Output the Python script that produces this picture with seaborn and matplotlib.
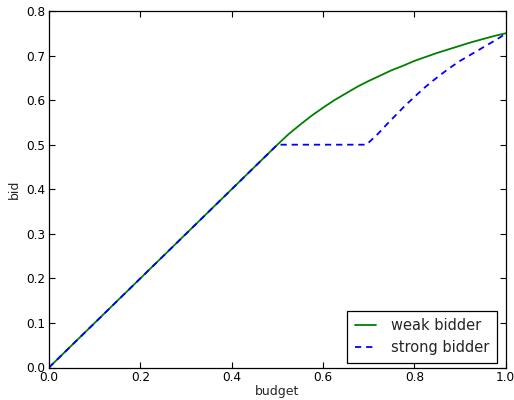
import matplotlib
matplotlib.use("Agg")
import matplotlib.pyplot as plt
import seaborn as sns
import pandas as pd

# valores
budgetWeak = [0.0, 0.5, 0.525, 0.55, 0.575, 0.6, 0.625, 0.65, 0.675, 0.7, 0.725, 0.75,
              0.775, 0.8, 0.825, 0.85, 0.875, 0.9, 0.925, 0.95, 0.975, 1.0]
bidWeak = [0.0, 0.5, 0.524, 0.545, 0.565, 0.583, 0.6, 0.615, 0.63, 0.643, 0.655, 0.667,
           0.677, 0.688, 0.697, 0.706, 0.714, 0.722, 0.73, 0.737, 0.744, 0.75]

budgetStrong = [0.0, 0.5, 0.695, 0.72, 0.74, 0.76, 0.78, 0.8, 0.82, 0.84, 0.86, 0.88,
                0.9, 0.92, 0.94, 0.96, 0.98, 1.0]
bidStrong = [0.0, 0.5, 0.5, 0.524, 0.546, 0.567, 0.588, 0.607, 0.626, 0.643, 0.659, 0.674,
             0.688, 0.70, 0.712, 0.724, 0.736, 0.749]

sns.set_style("ticks")
plt.rcParams['font.family'] = ['DejaVu Sans']
plt.rcParams['lines.scale_dashes'] = False

dadosFracos = pd.DataFrame({'budget': budgetWeak, 'bid': bidWeak})
dadosFortes = pd.DataFrame({'budget': budgetStrong, 'bid': bidStrong})

fig = plt.figure(figsize=(5.14, 4.0), dpi=100)
ax = fig.add_axes([49 / 514, 32.5 / 400, 456.7 / 514, 356.5 / 400])

sns.lineplot(data=dadosFracos, x='budget', y='bid', color='green', linewidth=1.3,
             label='weak bidder', ax=ax)
sns.lineplot(data=dadosFortes, x='budget', y='bid', color='blue', linewidth=1.3,
             linestyle=(0, (4.5, 3.5)), label='strong bidder', ax=ax)

ax.set_xlim(0, 1.0)
ax.set_ylim(0, 0.8)
ax.set_xticks([0.0, 0.2, 0.4, 0.6, 0.8, 1.0])
ax.set_yticks([0.0, 0.1, 0.2, 0.3, 0.4, 0.5, 0.6, 0.7, 0.8])
ax.set_xticklabels(['0.0', '0.2', '0.4', '0.6', '0.8', '1.0'])
ax.set_yticklabels(['0.0', '0.1', '0.2', '0.3', '0.4', '0.5', '0.6', '0.7', '0.8'])
ax.tick_params(direction='in', length=4, width=0.8, top=True, right=True,
               labelsize=8.7, pad=2.5, colors='black')
for lado in ax.spines.values():
    lado.set_color('black')
    lado.set_linewidth(0.9)

ax.set_xlabel('budget', fontsize=9, labelpad=1)
ax.set_ylabel('bid', fontsize=9, labelpad=4)

leg = ax.legend(loc='lower right', bbox_to_anchor=(1 - 9 / 457, 5 / 356.5),
                borderaxespad=0, fontsize=10.5, frameon=True, fancybox=False,
                edgecolor='black', framealpha=1, handlelength=1.5,
                handletextpad=1.0, borderpad=0.5)
leg.get_frame().set_linewidth(0.9)

fig.savefig('out.png', dpi=100)
